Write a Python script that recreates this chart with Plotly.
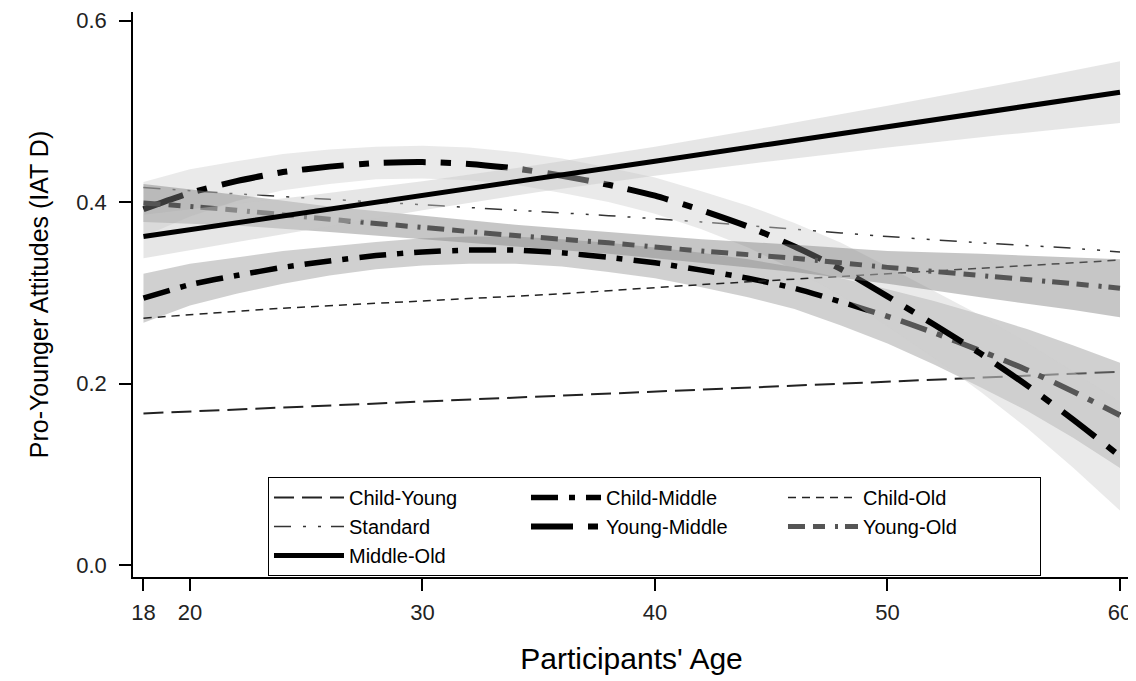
import plotly.graph_objects as go

# ---------------- data ----------------
AGE_TICKS = [18, 20, 30, 40, 50, 60]
Y_TICKS = [0.0, 0.2, 0.4, 0.6]
Y_TICK_TEXT = ["0.0", "0.2", "0.4", "0.6"]

# Child-Young (thin long dash)
cy_age = [18, 30, 40, 50, 60]
cy_val = [0.167, 0.180, 0.191, 0.202, 0.213]

# Standard (thin dash-dot-dot)
std_age = [18, 22, 26, 30, 34, 38, 42, 46, 50, 54, 58, 60]
std_val = [0.416, 0.409, 0.403, 0.397, 0.391, 0.385, 0.378, 0.370, 0.362, 0.355, 0.349, 0.345]

# Child-Old (thin short dash)
co_age = [18, 24, 30, 36, 42, 48, 54, 60]
co_val = [0.272, 0.283, 0.291, 0.299, 0.309, 0.318, 0.327, 0.336]

# Child-Middle / Young-Middle (curved)
cm_age = [18, 20, 22, 24, 26, 28, 30, 32, 34, 36, 38, 40, 42, 44, 46, 48, 50, 52, 54, 56, 58, 60]
cm_val = [0.294, 0.309, 0.319, 0.328, 0.335, 0.341, 0.345, 0.347, 0.347, 0.344, 0.339, 0.333,
          0.325, 0.316, 0.305, 0.290, 0.274, 0.256, 0.236, 0.215, 0.191, 0.165]
cm_lo = [0.267, 0.286, 0.299, 0.310, 0.319, 0.326, 0.330, 0.332, 0.332, 0.329, 0.323, 0.316,
         0.306, 0.295, 0.282, 0.264, 0.244, 0.221, 0.196, 0.170, 0.140, 0.107]
cm_hi = [0.321, 0.332, 0.339, 0.346, 0.351, 0.356, 0.360, 0.362, 0.362, 0.359, 0.355, 0.350,
         0.344, 0.337, 0.328, 0.316, 0.304, 0.291, 0.276, 0.260, 0.242, 0.223]

ym_age = cm_age
ym_val = [0.392, 0.410, 0.423, 0.433, 0.439, 0.443, 0.444, 0.442, 0.437, 0.429, 0.419, 0.407,
          0.391, 0.373, 0.351, 0.326, 0.296, 0.265, 0.233, 0.198, 0.160, 0.120]
ym_lo = [0.362, 0.384, 0.401, 0.413, 0.420, 0.425, 0.426, 0.424, 0.419, 0.410, 0.400, 0.387,
         0.370, 0.350, 0.325, 0.297, 0.263, 0.228, 0.191, 0.151, 0.107, 0.060]
ym_hi = [0.422, 0.436, 0.445, 0.453, 0.458, 0.461, 0.462, 0.460, 0.455, 0.448, 0.438, 0.427,
         0.412, 0.396, 0.377, 0.355, 0.329, 0.302, 0.275, 0.245, 0.213, 0.180]

# Young-Old
yo_age = [18, 22, 26, 30, 34, 38, 42, 46, 50, 54, 58, 60]
yo_val = [0.399, 0.391, 0.381, 0.372, 0.363, 0.355, 0.346, 0.338, 0.328, 0.319, 0.310, 0.305]
yo_lo = [0.378, 0.374, 0.367, 0.359, 0.351, 0.343, 0.333, 0.323, 0.310, 0.295, 0.281, 0.273]
yo_hi = [0.420, 0.408, 0.395, 0.385, 0.375, 0.367, 0.359, 0.353, 0.346, 0.343, 0.339, 0.337]

# Middle-Old (straight)
mo_age = [18, 25, 30, 35, 40, 45, 50, 55, 60]
mo_val = [0.362, 0.388, 0.407, 0.426, 0.445, 0.464, 0.483, 0.502, 0.521]
mo_lo = [0.338, 0.369, 0.391, 0.411, 0.429, 0.445, 0.460, 0.474, 0.487]
mo_hi = [0.386, 0.407, 0.423, 0.441, 0.461, 0.483, 0.506, 0.530, 0.555]

FONT = "Liberation Sans, Arial, sans-serif"

fig = go.Figure()


def band(ages, lo, hi, color):
    fig.add_trace(go.Scatter(
        x=list(ages) + list(ages)[::-1], y=list(hi) + list(lo)[::-1],
        fill="toself", fillcolor=color, line=dict(width=0), mode="lines",
        showlegend=False, hoverinfo="skip"))


def line(ages, vals, name, color, width, dash, rank, shape="spline"):
    fig.add_trace(go.Scatter(
        x=ages, y=vals, name=name, mode="lines", legendrank=rank,
        line=dict(color=color, width=width, dash=dash, shape=shape, smoothing=0.6)))


line(cy_age, cy_val, "Child-Young", "#222222", 2, "20px,8px", 1, "linear")
band(cm_age, cm_lo, cm_hi, "rgba(151,151,151,0.45)")
line(cm_age, cm_val, "Child-Middle", "#000000", 5.5, "27px,11px,6px,11px", 2)
line(co_age, co_val, "Child-Old", "#222222", 1.5, "8px,6px", 3)
line(std_age, std_val, "Standard", "#333333", 1.5, "17px,12px,3px,12px,3px,10px", 4)
band(ym_age, ym_lo, ym_hi, "rgba(205,205,205,0.42)")
line(ym_age, ym_val, "Young-Middle", "#000000", 6, "42px,15px,10px,15px", 5)
band(yo_age, yo_lo, yo_hi, "rgba(129,129,129,0.45)")
line(yo_age, yo_val, "Young-Old", "#555555", 5, "17px,8px,12px,10px,3px,7px", 6)
band(mo_age, mo_lo, mo_hi, "rgba(199,199,199,0.45)")
line(mo_age, mo_val, "Middle-Old", "#000000", 5, "solid", 7, "linear")

# the page body adds an 8px offset, so the figure is 8px smaller than the window
fig.update_layout(
    width=1128, height=673,
    margin=dict(l=125, r=6, t=4, b=104, autoexpand=False),
    paper_bgcolor="white", plot_bgcolor="white",
    font=dict(family=FONT, color="black"),
    legend=dict(
        orientation="h", x=0.1354, y=0.177, xanchor="left", yanchor="top",
        bgcolor="white", bordercolor="black", borderwidth=1,
        font=dict(size=20, family=FONT, color="black"),
        itemwidth=70, entrywidth=172, entrywidthmode="pixels",
        traceorder="normal", tracegroupgap=0,
    ),
    xaxis=dict(
        range=[17.55, 60.43], tickvals=AGE_TICKS, showgrid=False, zeroline=False,
        automargin=False,
        showline=True, linecolor="black", linewidth=1.5,
        ticks="outside", ticklen=12, tickwidth=1.5, tickcolor="black",
        ticklabelstandoff=3,
        tickfont=dict(size=22, family=FONT, color="#222222"),
        title=dict(text="Participants' Age", font=dict(size=30, family=FONT), standoff=24),
    ),
    yaxis=dict(
        range=[-0.0132, 0.6094], tickvals=Y_TICKS, ticktext=Y_TICK_TEXT,
        showgrid=False, zeroline=False, automargin=False,
        showline=True, linecolor="black", linewidth=1.5,
        ticks="outside", ticklen=12, tickwidth=1.5, tickcolor="black",
        ticklabelstandoff=8,
        tickfont=dict(size=22, family=FONT, color="#222222"),
        title=dict(text="Pro-Younger Attitudes (IAT D)", font=dict(size=25, family=FONT), standoff=21),
    ),
)

fig.write_html("out.html")
